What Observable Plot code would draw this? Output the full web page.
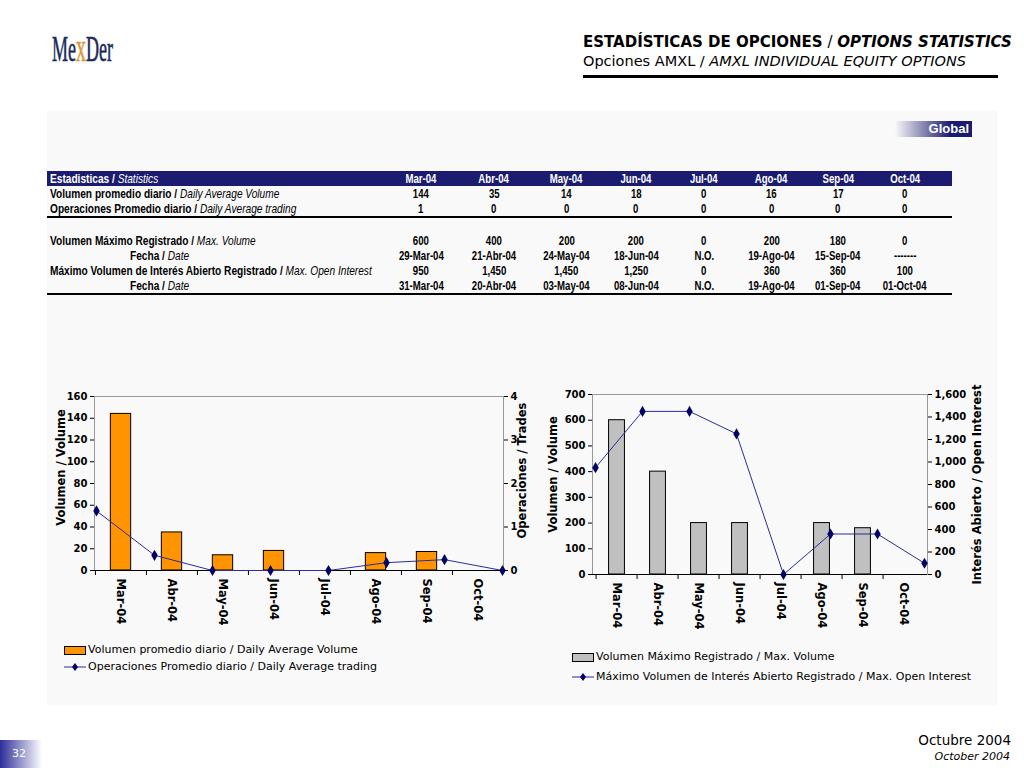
<!DOCTYPE html>
<html><head><meta charset="utf-8">
<script src="https://cdn.jsdelivr.net/npm/d3@7"></script>
<script src="https://cdn.jsdelivr.net/npm/@observablehq/plot@0.6"></script>
<style>
body{margin:0;width:1024px;height:768px;position:relative;background:#fff;font-family:"DejaVu Sans",Verdana,sans-serif;overflow:hidden;color:#000}
.abs{position:absolute}
#logo{left:52px;top:24px;font-family:"Liberation Serif","Times New Roman",serif;font-size:36px;color:#1b2a5e;transform:scaleX(0.5);transform-origin:left top;white-space:nowrap;-webkit-text-stroke:0.6px #1b2a5e}
#logo span{color:#d89a3c;font-size:40px;-webkit-text-stroke:0.6px #d89a3c}
#t1{left:583px;top:33px;font-size:15px;line-height:18px;white-space:nowrap}
#t2{left:583px;top:52px;font-size:14.5px;line-height:18px;white-space:nowrap}
#rule{left:583px;top:75px;width:415px;height:3px;background:#000}
#panel{left:47px;top:111px;width:950px;height:594px;background:#f9f9f9}
#global{left:895px;top:121px;width:77px;height:16px;background:linear-gradient(to right,rgba(27,27,111,0),#1b1b6f 72%);color:#fff;font-family:"Liberation Sans",Arial,sans-serif;font-weight:bold;font-size:13px;line-height:16px;text-align:right}
#global span{padding-right:3px}
#tbl{left:47px;top:171px}
table{width:905px;border-collapse:collapse;table-layout:fixed;font-family:"Liberation Sans Narrow","Arial Narrow","Liberation Sans",sans-serif;font-size:13px;font-weight:bold}
td{height:15px;line-height:15px;padding:0;white-space:nowrap;overflow:visible;text-align:center}
td span{display:inline-block;transform:scaleX(0.74);transform-origin:center}
td.lab{text-align:left;padding-left:3px}
td.lab span{transform:scaleX(0.78);transform-origin:left center}
td.ind{padding-left:83px}
td i{font-weight:normal}
tr.hd td{background:#1b1b6f;color:#fff}
tr.rl td{border-bottom:2px solid #000}
.chart svg{position:absolute;left:0;top:0}
.leg{font-size:11px;line-height:14px;white-space:nowrap}
#foot1{right:13px;top:732px;font-size:13.5px;text-align:right;line-height:16px}
#foot2{right:14px;top:750px;font-size:11px;font-style:italic;text-align:right;line-height:14px}
#pg{left:0;top:740px;width:42px;height:28px;background:linear-gradient(to right,#2d2d9a,rgba(255,255,255,0));color:#fff;font-size:11px;line-height:28px;padding-left:12px;box-sizing:border-box}
</style></head><body>
<div id="panel" class="abs"></div>
<div id="logo" class="abs">Me<span>x</span>Der</div>
<div id="t1" class="abs"><b>ESTADÍSTICAS DE OPCIONES</b> / <b><i>OPTIONS STATISTICS</i></b></div>
<div id="t2" class="abs">Opciones AMXL / <i>AMXL INDIVIDUAL EQUITY OPTIONS</i></div>
<div id="rule" class="abs"></div>
<div id="global" class="abs"><span>Global</span></div>
<div id="tbl" class="abs"></div>
<div id="c1" class="abs chart" style="left:45px;top:380px;width:490px;height:260px"></div>
<div id="c2" class="abs chart" style="left:540px;top:380px;width:450px;height:260px"></div>
<div id="leg1" class="abs"></div>
<div id="leg2" class="abs"></div>
<div id="foot1" class="abs">Octubre 2004</div>
<div id="foot2" class="abs">October 2004</div>
<div id="pg" class="abs">32</div>
<script>
// ---- data ----
const months = ["Mar-04","Abr-04","May-04","Jun-04","Jul-04","Ago-04","Sep-04","Oct-04"];
const dailyVolume = [144,35,14,18,0,16,17,0];
const dailyTrades = [1.37,0.35,0,0,0,0.18,0.25,0];     // as plotted
const dailyTradesTable = [1,0,0,0,0,0,0,0];           // as printed in table
const maxVolume = [600,400,200,200,0,200,180,0];
const maxVolumeDate = ["29-Mar-04","21-Abr-04","24-May-04","18-Jun-04","N.O.","19-Ago-04","15-Sep-04","-------"];
const maxOpenInterest = [950,1450,1450,1250,0,360,360,100];
const maxOIDate = ["31-Mar-04","20-Abr-04","03-May-04","08-Jun-04","N.O.","19-Ago-04","01-Sep-04","01-Oct-04"];
const volTicks1 = [0,20,40,60,80,100,120,140,160];
const tradeTicks = [0,1,2,3,4];
const volTicks2 = [0,100,200,300,400,500,600,700];
const oiTicks = [0,200,400,600,800,1000,1200,1400,1600];
const fmt = d3.format(",");

// ---- table ----
const colW = [338,72,74,71,68,68,67,66,68,13];
const rows = [
  {cls:"hd", es:"Estadisticas", en:"Statistics", vals:months},
  {es:"Volumen promedio diario", en:"Daily Average Volume", vals:dailyVolume},
  {cls:"rl", es:"Operaciones Promedio diario", en:"Daily Average trading", vals:dailyTradesTable},
  {cls:"sp"},
  {es:"Volumen Máximo Registrado", en:"Max. Volume", vals:maxVolume},
  {es:"Fecha", en:"Date", vals:maxVolumeDate, ind:true},
  {es:"Máximo Volumen de Interés Abierto Registrado", en:"Max. Open Interest", vals:maxOpenInterest.map(fmt)},
  {cls:"rl", es:"Fecha", en:"Date", vals:maxOIDate, ind:true}
];
let html = "<table><colgroup>" + colW.map(w=>`<col style="width:${w}px">`).join("") + "</colgroup>";
for (const r of rows) {
  html += `<tr class="${r.cls||""}">`;
  if (r.cls === "sp") { html += `<td colspan="10"></td></tr>`; continue; }
  html += `<td class="lab${r.ind?" ind":""}"><span>${r.es} / <i>${r.en}</i></span></td>`;
  html += r.vals.map(v=>`<td><span>${v}</span></td>`).join("") + "<td></td></tr>";
}
html += "</table>";
document.getElementById("tbl").innerHTML = html;

// ---- charts ----
function dualChart({el, W, H, m, bars, barDomain, barTicks, barFill, line, lineDomain, lineTicks, lineFormat, leftLabel, rightLabel, leftDx, rightDx, leftDy, rightDy}) {
  const step = (W - m.left - m.right) / months.length;
  const data = months.map((mm,i)=>({m:mm, b:bars[i], l:line[i]}));
  const common = {width:W, height:H, marginLeft:m.left, marginRight:m.right, marginTop:m.top, marginBottom:m.bottom,
    style:{fontFamily:"DejaVu Sans, Verdana, sans-serif", fontSize:"10px", fontWeight:"bold", background:"transparent", color:"#000", overflow:"visible"}};
  const p1 = Plot.plot({...common,
    x:{domain:months, padding:0},
    y:{domain:barDomain},
    marks:[
      Plot.frame({stroke:"#999"}),
      Plot.barY(data,{x:"m", y:"b", fill:barFill, stroke:"#000", strokeWidth:1, insetLeft:step*0.3, insetRight:step*0.3}),
      Plot.axisY({anchor:"left", ticks:barTicks, tickSize:4, tickPadding:3, line:true, label:null}),
      Plot.axisX({tickSize:5, tickFormat:()=>"", dx:-step/2, label:null}),
      Plot.axisX({tickSize:0, tickRotate:90, tickPadding:8, fontSize:11.5, label:null}),
      Plot.ruleY([barDomain[0]], {stroke:"#000"}),
      Plot.text([leftLabel], {text:d=>d, frameAnchor:"left", textAnchor:"middle", lineAnchor:"middle", dx:leftDx, dy:leftDy, rotate:-90, fontSize:11.5, fontWeight:"bold"})
    ]});
  const p2 = Plot.plot({...common,
    x:{domain:months, padding:0, axis:null},
    y:{domain:lineDomain},
    marks:[
      Plot.axisY({anchor:"right", ticks:lineTicks, tickFormat:lineFormat, tickSize:4, tickPadding:3, line:true, label:null}),
      Plot.line(data,{x:"m", y:"l", stroke:"#2b2b9c", strokeWidth:1}),
      Plot.dot(data,{x:"m", y:"l", symbol:"diamond", r:3.4, fill:"#000066", stroke:"none"}),
      Plot.text([rightLabel], {text:d=>d, frameAnchor:"right", textAnchor:"middle", lineAnchor:"middle", dx:rightDx, dy:rightDy, rotate:-90, fontSize:11.5, fontWeight:"bold"})
    ]});
  const c = document.getElementById(el);
  c.appendChild(p1); c.appendChild(p2);
}
dualChart({el:"c1", W:490, H:260, m:{left:49,right:32,top:16,bottom:70},
  bars:dailyVolume, barDomain:[0,160], barTicks:volTicks1, barFill:"#FF9400",
  line:dailyTrades, lineDomain:[0,4], lineTicks:tradeTicks, lineFormat:d3.format("d"),
  leftLabel:"Volumen / Volume", rightLabel:"Operaciones / Trades", leftDx:-33, rightDx:18.5, leftDy:-16, rightDy:-13});
dualChart({el:"c2", W:450, H:260, m:{left:52,right:63,top:14,bottom:66},
  bars:maxVolume, barDomain:[0,700], barTicks:volTicks2, barFill:"#C0C0C0",
  line:maxOpenInterest, lineDomain:[0,1600], lineTicks:oiTicks, lineFormat:fmt,
  leftLabel:"Volumen / Volume", rightLabel:"Interés Abierto / Open Interest", leftDx:-39.5, rightDx:50, leftDy:-10, rightDy:0});

// ---- legends ----
function legend(el, x, y1, y2, fill, t1, t2) {
  const d = document.getElementById(el);
  d.style.left = x + "px"; d.style.top = "0px";
  d.innerHTML =
    `<div class="abs" style="left:0;top:${y1-4}px;width:20px;height:7px;background:${fill};border:1px solid #000"></div>` +
    `<div class="abs leg" style="left:24px;top:${y1-7}px">${t1}</div>` +
    `<svg class="abs" style="left:0;top:${y2-5}px" width="22" height="10"><line x1="0" y1="5" x2="22" y2="5" stroke="#2b2b9c" stroke-width="1"/><path d="M11,1 L14,5 L11,9 L8,5 Z" fill="#000066"/></svg>` +
    `<div class="abs leg" style="left:24px;top:${y2-7}px">${t2}</div>`;
}
legend("leg1", 64, 650, 667, "#FF9400", "Volumen promedio diario / Daily Average Volume", "Operaciones Promedio diario / Daily Average trading");
legend("leg2", 572, 657, 677, "#C0C0C0", "Volumen Máximo Registrado / Max. Volume", "Máximo Volumen de Interés Abierto Registrado / Max. Open Interest");
</script>
</body></html>
